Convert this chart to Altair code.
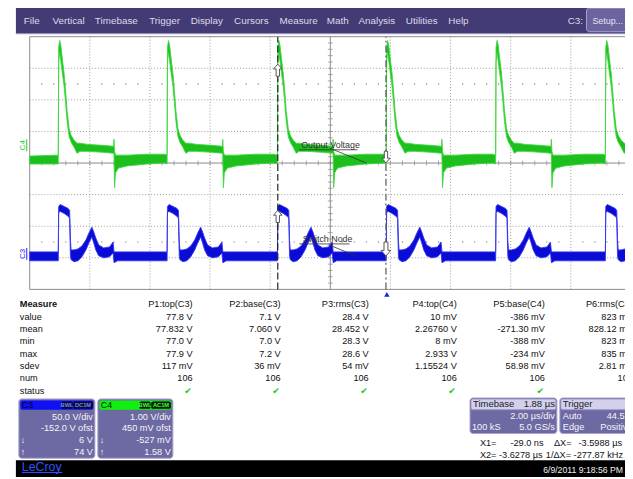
import altair as alt
import pandas as pd

W, H, OFF = 625, 471, 8
FONT = "Liberation Sans"

# ---------------- data ----------------
MENU_ITEMS = ["File", "Vertical", "Timebase", "Trigger", "Display", "Cursors",
              "Measure", "Math", "Analysis", "Utilities", "Help"]

TIME_LEFT_US, TIME_RIGHT_US = -11.88, 8.12          # 2.00 us/div, delay 1.88 us
CURSOR_X1_US, CURSOR_X2_US = -0.029, -3.6278
TRIGGER_US = 0.0
RISE_US = [-10.93, -7.31, -3.64, -0.02, 3.62, 7.27]  # switching edges

# C4 - output voltage (1.00 V/div, 450 mV ofst), envelope of one period
C4_VDIV, C4_OFST = 1.0, 0.45
C4_DT_US = [0, 0.013, 0.046, 0.082, 0.131, 0.197, 0.246, 0.296, 0.361, 0.427, 0.525,
            0.624, 0.722, 0.985, 1.478, 1.839, 1.852, 1.872, 1.905, 2.003, 2.299, 2.956, 3.55]
C4_HI_V = [-0.20, 3.21, 3.43, 3.30, 2.89, 2.36, 1.80, 1.18, 0.64, 0.43, 0.27,
           0.18, 0.18, 0.14, 0.11, 0.08, 0.30, -0.08, -0.20, -0.20, -0.20, -0.17, -0.17]
C4_LO_V = [-0.48, 2.74, 3.05, 2.80, 2.43, 1.96, 1.43, 0.86, 0.39, 0.21, 0.05,
           -0.14, -0.08, -0.08, -0.11, -0.14, -0.14, -1.23, -0.76, -0.61, -0.54, -0.48, -0.45]
C4_LEAD_V = (-0.23, -0.48)

# C3 - switch node (50.0 V/div, -152.0 V ofst)
C3_VDIV, C3_OFST = 50.0, -152.0
C3_DT_US = [0, 0.013, 0.066, 0.197, 0.328, 0.378, 0.404, 0.427, 0.525, 0.657, 0.788,
            0.920, 1.018, 1.117, 1.182, 1.248, 1.346, 1.511, 1.708, 1.823, 1.855, 1.970, 3.55]
C3_HI_V = [11.4, 83.3, 86.4, 83.3, 80.2, 77.0, 30.2, 14.5, 14.5, 16.1, 20.8,
           30.2, 41.1, 50.5, 42.7, 33.3, 22.3, 17.7, 19.2, 27.0, 11.4, 11.4, 11.4]
C3_LO_V = [-2.7, 73.9, 75.5, 72.3, 67.7, 64.5, 5.2, -1.1, -4.2, -2.7, 3.6,
           14.5, 25.5, 34.8, 25.5, 14.5, 5.2, 2.0, 3.6, 9.8, -5.8, -2.7, -2.7]
C3_LEAD_V = (11.4, -2.7)

# measurement table
MEAS_COLS = ["P1:top(C3)", "P2:base(C3)", "P3:rms(C3)", "P4:top(C4)", "P5:base(C4)", "P6:rms(C4)"]
MEAS_ROWS = ["value", "mean", "min", "max", "sdev", "num", "status"]
M_VALUE = ["77.8 V", "7.1 V", "28.4 V", "10 mV", "-386 mV", "823 mV"]
M_MEAN = ["77.832 V", "7.060 V", "28.452 V", "2.26760 V", "-271.30 mV", "828.12 mV"]
M_MIN = ["77.0 V", "7.0 V", "28.3 V", "8 mV", "-388 mV", "823 mV"]
M_MAX = ["77.9 V", "7.2 V", "28.6 V", "2.933 V", "-234 mV", "835 mV"]
M_SDEV = ["117 mV", "36 mV", "54 mV", "1.15524 V", "58.98 mV", "2.81 mV"]
M_NUM = ["106", "106", "106", "106", "106", "106"]

C3_INFO = ["50.0 V/div", "-152.0 V ofst", "6 V", "74 V"]
C4_INFO = ["1.00 V/div", "450 mV ofst", "-527 mV", "1.58 V"]
TIMEBASE = ["Timebase", "1.88 µs", "2.00 µs/div", "100 kS", "5.0 GS/s"]
TRIGGER = ["Trigger", "Auto", "Edge", "44.5 V", "Positive"]
CURSOR_TXT = ["X1=", "-29.0 ns", "ΔX=", "-3.5988 µs", "X2= -3.6278 µs", "1/ΔX= -277.87 kHz"]
DATE_TXT = "6/9/2011 9:18:56 PM"

# ---------------- scales ----------------
XS = alt.Scale(domain=[TIME_LEFT_US, TIME_RIGHT_US], range=[30 - OFF, 639 - OFF], nice=False, zero=False)
YS = alt.Scale(domain=[-4, 4], range=[290 - OFF, 34 - OFF], nice=False, zero=False)
PXS = alt.Scale(domain=[OFF, OFF + W], range=[0, W], nice=False, zero=False)
PYS = alt.Scale(domain=[OFF, OFF + H], range=[0, H], nice=False, zero=False)


def X(f):
    return alt.X(f, scale=XS, axis=None)


def Y(f):
    return alt.Y(f, scale=YS, axis=None)


def PX(f="x:Q"):
    return alt.X(f, scale=PXS, axis=None)


def PY(f="y:Q"):
    return alt.Y(f, scale=PYS, axis=None)


def rects(rows, **mark):
    df = pd.DataFrame(rows, columns=["x", "x2", "y", "y2"])
    return alt.Chart(df).mark_rect(**mark).encode(x=PX(), x2="x2:Q", y=PY(), y2="y2:Q")


def rules(rows, **mark):
    df = pd.DataFrame(rows, columns=["x", "x2", "y", "y2"])
    return alt.Chart(df).mark_rule(**mark).encode(x=PX(), x2="x2:Q", y=PY(), y2="y2:Q")


def texts(rows, **mark):
    df = pd.DataFrame(rows, columns=["txt", "x", "y"])
    base = dict(font=FONT, fontSize=9.3, baseline="middle", align="left", color="#111111")
    base.update(mark)
    return alt.Chart(df).mark_text(**base).encode(x=PX(), y=PY(), text="txt:N")


def to_div(v, vdiv, ofst):
    return (v + ofst) / vdiv


def trace(dt, hi, lo, lead, vdiv, ofst):
    rows = [(TIME_LEFT_US, to_div(lead[0], vdiv, ofst), to_div(lead[1], vdiv, ofst))]
    for r in RISE_US:
        for a, b, c in zip(dt, hi, lo):
            rows.append((r + a, to_div(b, vdiv, ofst), to_div(c, vdiv, ofst)))
    df = pd.DataFrame(rows, columns=["t", "hi", "lo"]).sort_values("t")
    return df


layers = []

# ---------------- menu bar ----------------
layers.append(rects([(16, 633, 0, 31)], color="#433B74"))
layers.append(rules([(16, 633, 31, 31)], color="#9E98C6", strokeWidth=1))
layers.append(rects([(594, 640, 5, 29)], color="#6C649E", stroke="#A9A3D0", strokeWidth=1, cornerRadius=3))
MENU_X = [24, 53, 96, 151, 193, 237, 283, 331, 363, 411, 454]
layers.append(texts([(m, x, 18) for m, x in zip(MENU_ITEMS, MENU_X)], fontSize=10, color="#DCDAEA"))
layers.append(texts([("C3:", 575, 18)], fontSize=10, color="#DCDAEA"))
layers.append(texts([("Setup...", 600, 18)], fontSize=9, color="#E4E2F0"))

# ---------------- graticule ----------------
grid_t = pd.DataFrame({"t": [TIME_LEFT_US + 2 * k for k in range(1, 10) if k != 5], "a": -4, "b": 4})
layers.append(alt.Chart(grid_t).mark_rule(color="#999999", strokeDash=[1, 2], strokeWidth=1)
              .encode(x=X("t:Q"), y=Y("a:Q"), y2="b:Q"))
grid_d = pd.DataFrame({"d": [-3, -2, -1, 1, 2, 3], "a": TIME_LEFT_US, "b": TIME_RIGHT_US})
layers.append(alt.Chart(grid_d).mark_rule(color="#999999", strokeDash=[1, 2], strokeWidth=1)
              .encode(y=Y("d:Q"), x=X("a:Q"), x2="b:Q"))
# frame and centre axes
frame_v = pd.DataFrame({"t": [TIME_LEFT_US, TIME_LEFT_US + 10], "a": -4, "b": 4})
layers.append(alt.Chart(frame_v).mark_rule(color="#8A8A8A", strokeWidth=1)
              .encode(x=X("t:Q"), y=Y("a:Q"), y2="b:Q"))
frame_h = pd.DataFrame({"d": [-4, 0, 4], "a": TIME_LEFT_US, "b": TIME_RIGHT_US})
layers.append(alt.Chart(frame_h).mark_rule(color="#8A8A8A", strokeWidth=1)
              .encode(y=Y("d:Q"), x=X("a:Q"), x2="b:Q"))
ticks_v = pd.DataFrame({"d": [-4 + 0.2 * k for k in range(1, 40)], "t": TIME_LEFT_US + 10})
layers.append(alt.Chart(ticks_v).mark_tick(orient="horizontal", size=5, thickness=1, color="#8A8A8A")
              .encode(x=X("t:Q"), y=Y("d:Q")))
ticks_h = pd.DataFrame({"t": [TIME_LEFT_US + 0.4 * k for k in range(1, 50)], "d": 0})
layers.append(alt.Chart(ticks_h).mark_tick(orient="vertical", size=5, thickness=1, color="#8A8A8A")
              .encode(x=X("t:Q"), y=Y("d:Q")))
dots = pd.DataFrame([(TIME_LEFT_US + 0.4 * k, s) for k in range(1, 50) if k % 5 for s in (2.5, -2.5)],
                    columns=["t", "d"])
layers.append(alt.Chart(dots).mark_point(shape="square", filled=True, size=1.5, color="#808080", opacity=1)
              .encode(x=X("t:Q"), y=Y("d:Q")))

# ---------------- waveforms ----------------
c4 = trace(C4_DT_US, C4_HI_V, C4_LO_V, C4_LEAD_V, C4_VDIV, C4_OFST)
c3 = trace(C3_DT_US, C3_HI_V, C3_LO_V, C3_LEAD_V, C3_VDIV, C3_OFST)
layers.append(alt.Chart(c4).mark_area(color="#1DBF1D", stroke="#3FD83F", strokeWidth=0.9, opacity=1)
              .encode(x=X("t:Q"), y=Y("hi:Q"), y2="lo:Q"))
layers.append(alt.Chart(c3).mark_area(color="#0B0BD6", stroke="#3434F2", strokeWidth=0.9, opacity=1)
              .encode(x=X("t:Q"), y=Y("hi:Q"), y2="lo:Q"))

# ---------------- cursors ----------------
cur2 = pd.DataFrame({"t": [CURSOR_X2_US], "a": -4, "b": 4})
layers.append(alt.Chart(cur2).mark_rule(color="#222222", strokeDash=[7, 3], strokeWidth=1.2)
              .encode(x=X("t:Q"), y=Y("a:Q"), y2="b:Q"))
cur1 = pd.DataFrame({"t": [CURSOR_X1_US], "a": -4, "b": 4})
layers.append(alt.Chart(cur1).mark_rule(color="#555555", strokeDash=[7, 3, 2, 3], strokeWidth=1.2)
              .encode(x=X("t:Q"), y=Y("a:Q"), y2="b:Q"))
ARROW = "M0,-1L0.7,-0.2L0.28,-0.2L0.28,1L-0.28,1L-0.28,-0.2L-0.7,-0.2Z"
arrows = pd.DataFrame({"t": [CURSOR_X2_US, CURSOR_X2_US, CURSOR_X1_US, CURSOR_X1_US],
                       "d": [2.94, -1.69, 0.19, -2.72],
                       "ang": [0, 0, 180, 180],
                       "sz": [150, 150, 140, 200]})
layers.append(alt.Chart(arrows).mark_point(shape=ARROW, filled=True, fill="white", stroke="#555555",
                                           strokeWidth=1, opacity=1)
              .encode(x=X("t:Q"), y=Y("d:Q"), angle=alt.Angle("ang:Q", scale=None),
                      size=alt.Size("sz:Q", scale=None)))
trig = pd.DataFrame({"t": [TRIGGER_US], "d": [-4.16]})
layers.append(alt.Chart(trig).mark_point(shape="triangle-up", filled=True, color="#2020E8", size=30, opacity=1)
              .encode(x=X("t:Q"), y=Y("d:Q")))

# trace labels with leader lines
lab = pd.DataFrame({"txt": ["Output Voltage", "Switch Node"], "t": [-2.85, -2.80], "d": [0.56, -2.41]})
layers.append(alt.Chart(lab).mark_text(font=FONT, fontSize=9, align="left", baseline="middle", color="#333333")
              .encode(x=X("t:Q"), y=Y("d:Q"), text="txt:N"))
lead = pd.DataFrame({"t": [-2.914, -1.897, -2.914, -1.93], "t2": [-0.977, -0.681, -1.24, -0.944],
                     "d": [0.42, 0.47, -2.56, -2.59], "d2": [0.42, 0.0, -2.56, -2.97]})
layers.append(alt.Chart(lead).mark_rule(color="#333333", strokeWidth=0.8)
              .encode(x=X("t:Q"), x2="t2:Q", y=Y("d:Q"), y2="d2:Q"))

# channel markers at left edge
layers.append(texts([("C4", 23, 144)], fontSize=8, color="#22CC22", angle=270, align="center"))
layers.append(texts([("C3", 23, 254)], fontSize=8, color="#2222FF", angle=270, align="center"))
layers.append(rules([(27, 27, 138, 150)], color="#22CC22", strokeWidth=1))
layers.append(rules([(27, 27, 248, 260)], color="#2222FF", strokeWidth=1))

# ---------------- measurement table ----------------
TX = alt.Scale(domain=[0, 5], range=[195 - OFF, 641 - OFF], nice=False, zero=False)
TY = alt.Scale(domain=[0, 7], range=[305 - OFF, 392.5 - OFF], nice=False, zero=False)
cells = []
for ci, name in enumerate(MEAS_COLS):
    cells.append((name, ci, 0))
    for ri, col in enumerate([M_VALUE, M_MEAN, M_MIN, M_MAX, M_SDEV, M_NUM], start=1):
        cells.append((col[ci], ci, ri))
cells_df = pd.DataFrame(cells, columns=["txt", "ci", "ri"])
layers.append(alt.Chart(cells_df).mark_text(font=FONT, fontSize=9.3, align="right", baseline="middle",
                                            color="#111111")
              .encode(x=alt.X("ci:Q", scale=TX, axis=None), y=alt.Y("ri:Q", scale=TY, axis=None), text="txt:N"))
status_df = pd.DataFrame({"txt": ["✔"] * 6, "ci": list(range(6)), "ri": 7})
layers.append(alt.Chart(status_df).mark_text(font="DejaVu Sans", fontSize=9, align="right", baseline="middle",
                                             color="#22C422", dx=-1)
              .encode(x=alt.X("ci:Q", scale=TX, axis=None), y=alt.Y("ri:Q", scale=TY, axis=None), text="txt:N"))
rowlab = pd.DataFrame({"txt": ["Measure"] + MEAS_ROWS, "ri": list(range(8)),
                       "w": ["bold"] + ["normal"] * 7})
layers.append(alt.Chart(rowlab[rowlab.w == "bold"]).mark_text(font=FONT, fontSize=9.3, fontWeight="bold",
                                                               align="left", baseline="middle", color="#111111")
              .encode(x=alt.value(20 - OFF), y=alt.Y("ri:Q", scale=TY, axis=None), text="txt:N"))
layers.append(alt.Chart(rowlab[rowlab.w == "normal"]).mark_text(font=FONT, fontSize=9.3, align="left",
                                                                 baseline="middle", color="#111111")
              .encode(x=alt.value(20 - OFF), y=alt.Y("ri:Q", scale=TY, axis=None), text="txt:N"))

# ---------------- channel panels ----------------
PANEL = "#6D69A3"
layers.append(rects([(19, 96, 401, 461), (99, 175, 401, 461)], color=PANEL, stroke="#A6A2D0",
                    strokeWidth=1, cornerRadius=3))
layers.append(rects([(20.5, 94.5, 402.5, 412)], color="#1010F4", cornerRadius=2))
layers.append(rects([(100.5, 173.5, 402.5, 412)], color="#10F010", cornerRadius=2))
layers.append(rects([(62, 73.5, 403.5, 411), (74, 94, 403.5, 411)], color="#0A0A30", cornerRadius=2))
layers.append(rects([(141, 152.5, 403.5, 411), (153, 173, 403.5, 411)], color="#062006", cornerRadius=2))
layers.append(texts([("C3", 22, 407)], fontSize=9, color="#000022"))
layers.append(texts([("C4", 102, 407)], fontSize=9, color="#002200"))
layers.append(texts([("BWL", 67.8, 407.2), ("DC1M", 84, 407.2)], fontSize=5.8, fontWeight="bold",
                    color="#6A8CFF", align="center"))
layers.append(texts([("BWL", 146.8, 407.2), ("AC1M", 163, 407.2)], fontSize=5.8, fontWeight="bold",
                    color="#40FF40", align="center"))
INFO_Y = [419, 430.5, 443, 454.5]
layers.append(texts([(s, 94, y) for s, y in zip(C3_INFO, INFO_Y)] +
                    [(s, 173, y) for s, y in zip(C4_INFO, INFO_Y)], align="right", color="#F4F4F8"))
layers.append(texts([("↓", 21, 443), ("↑", 21, 454.5), ("↓", 101, 443), ("↑", 101, 454.5)],
                    color="#F4F4F8", fontSize=9))

# timebase / trigger panels
layers.append(rects([(476, 564, 400, 436), (567, 650, 400, 436)], color=PANEL, stroke="#A6A2D0",
                    strokeWidth=1, cornerRadius=3))
layers.append(rects([(477, 563, 401, 412), (568, 649, 401, 412)], color="#D2D0EA", stroke="#8E8AB8",
                    strokeWidth=0.8, cornerRadius=2))
layers.append(texts([(TIMEBASE[0], 479, 406.5), (TRIGGER[0], 570, 406.5)], color="#1A1A2A", fontSize=9.6))
layers.append(texts([(TIMEBASE[1], 562, 406.5)], color="#1A1A2A", fontSize=9.6, align="right"))
layers.append(texts([(TIMEBASE[2], 562, 418.5), (TIMEBASE[4], 562, 429.5)], color="#F4F4F8", align="right"))
layers.append(texts([(TIMEBASE[3], 478, 429.5), (TRIGGER[1], 570, 418.5), (TRIGGER[2], 570, 429.5),
                     (TRIGGER[3], 614.5, 418.5), (TRIGGER[4], 608, 429.5)], color="#F4F4F8"))

# cursor readouts
layers.append(texts([(CURSOR_TXT[0], 486, 446), (CURSOR_TXT[2], 561, 446), (CURSOR_TXT[4], 486, 457.5)]))
layers.append(texts([(CURSOR_TXT[1], 550.5, 446), (CURSOR_TXT[3], 630, 446), (CURSOR_TXT[5], 631, 457.5)],
                    align="right"))

# ---------------- bottom bar ----------------
layers.append(rects([(16, 633, 463, 480)], color="#000000"))
layers.append(texts([("LeCroy", 22, 469.5)], fontSize=12.5, color="#3050FF"))
layers.append(rules([(22, 63, 475.5, 475.5)], color="#3050FF", strokeWidth=1))
layers.append(texts([(DATE_TXT, 631, 473)], fontSize=8.8, color="#F0F0F0", align="right"))

chart = (alt.layer(*layers)
         .properties(width=W, height=H, padding=0, autosize=alt.AutoSizeParams(type="none"))
         .resolve_scale(x="independent", y="independent")
         .configure_view(stroke=None))

chart.save("out.html", embed_options={"renderer": "svg", "actions": False})
